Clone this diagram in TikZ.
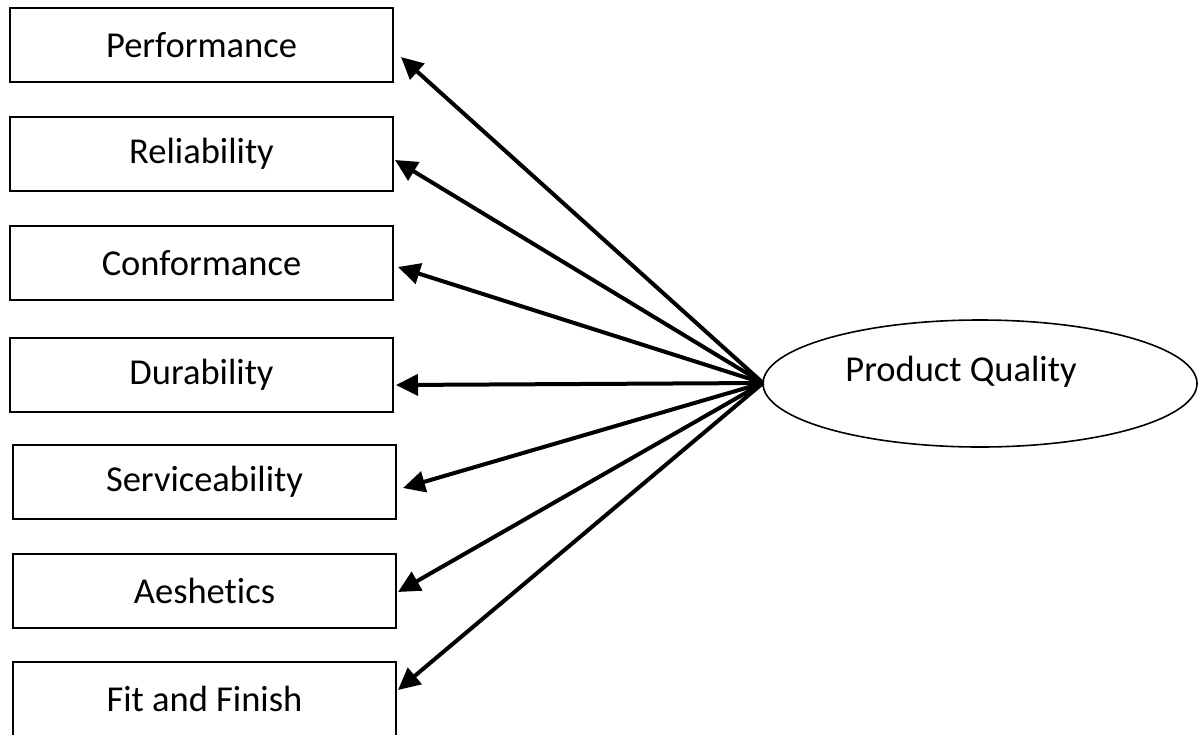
\documentclass[tikz,border=0pt]{standalone}
\usepackage{fontspec}
\setmainfont[Ligatures={NoCommon}]{Carlito}
\usetikzlibrary{arrows.meta,shapes.geometric}
\begin{document}
\begin{tikzpicture}[x=1pt,y=-1pt,
  box/.style={draw=black,line width=2pt,minimum width=383pt,minimum height=74pt,inner sep=0pt,font=\fontsize{36.5}{40}\selectfont},
  conn/.style={line width=4pt,-{Triangle[length=22pt,width=21pt]}}]
\useasboundingbox (0,0) rectangle (1198,734);
\clip (0,0) rectangle (1198,734);
\node[box] (perf) at (201.5,45) {Performance};
\node[box] (rel) at (201.5,154) {Reliability};
\node[box] (conf) at (201.5,263) {Conformance};
\node[box] (dur) at (201.5,375) {Durability};
\node[box] (serv) at (204.5,481.5) {Serviceability};
\node[box] (aes) at (204.5,590.5) {Aeshetics};
\node[box] (fit) at (204.5,699) {Fit and Finish};
\node[draw=black,line width=1.6pt,ellipse,minimum width=434pt,minimum height=127pt,inner sep=0pt] (pq) at (980,383.5) {};
\node[font=\fontsize{36.5}{40}\selectfont] (pqt) at (961,372) {Product Quality};
\coordinate (src) at (763,383);
\coordinate (t1) at (401,57);
\coordinate (t2) at (395,160);
\coordinate (t3) at (398,267);
\coordinate (t4) at (396,385);
\coordinate (t5) at (403,488);
\coordinate (t6) at (398,592);
\coordinate (t7) at (398,690);
\foreach \t in {t1,t2,t3,t4,t5,t6,t7}{\draw[conn] (src) -- (\t);}
\end{tikzpicture}
\end{document}
